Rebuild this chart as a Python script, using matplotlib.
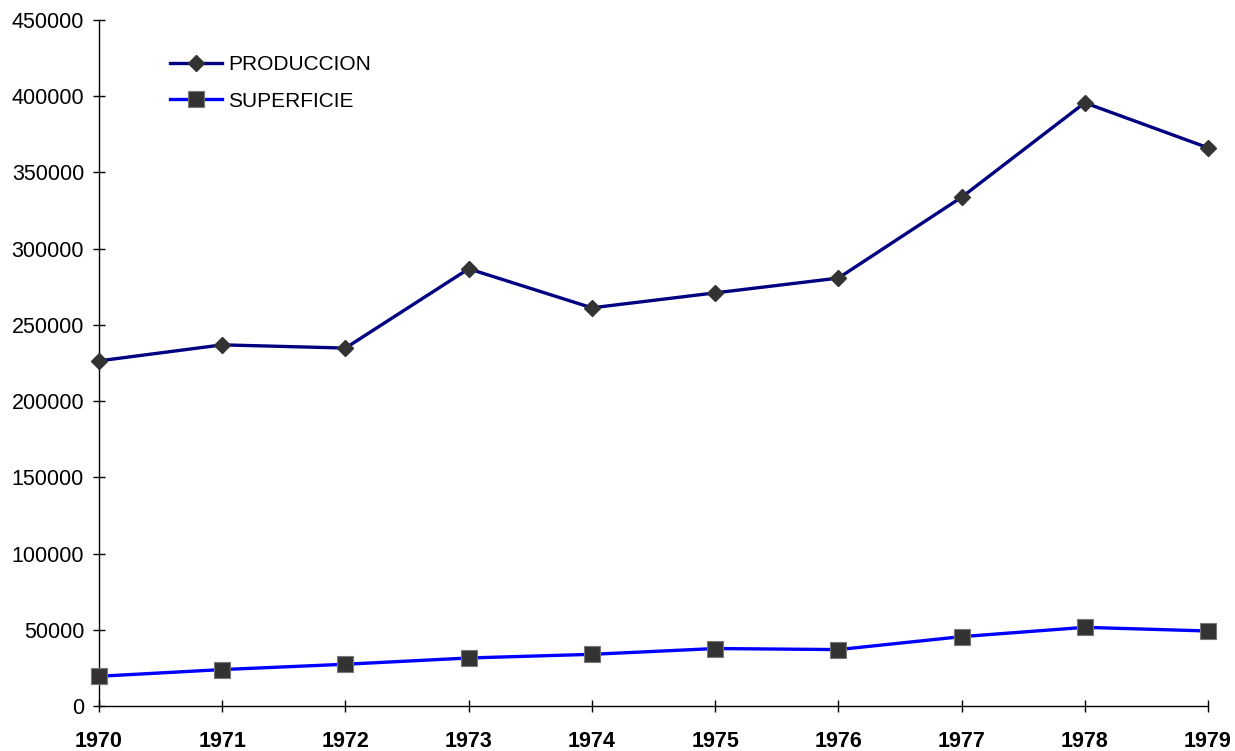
#!/usr/bin/env python3
"""Produccion y superficie 1970-1979 — line chart, two series on one axis."""

import matplotlib
matplotlib.use("Agg")
import matplotlib.pyplot as plt
from matplotlib.ticker import FormatStrFormatter

# =============================================================================
# DATA
# =============================================================================
YEARS = [1970, 1971, 1972, 1973, 1974, 1975, 1976, 1977, 1978, 1979]
PRODUCCION = [226400, 236900, 234800, 286800, 261200,
              271000, 280700, 333700, 395700, 366200]
SUPERFICIE = [19500, 23900, 27400, 31500, 33900,
              37700, 37000, 45500, 51600, 49200]
Y_TICKS = list(range(0, 450001, 50000))

# =============================================================================
# DISPLAY
# =============================================================================
plt.rcParams["font.family"] = ["Liberation Sans", "DejaVu Sans"]
TICK_FONT = 15.5
LEGEND_FONT = 15
MARKER_FACE = "#333333"
MARKER_EDGE = "#777777"


def main():
    fig = plt.figure(figsize=(12.35, 7.51), dpi=100)
    ax = fig.add_axes([99 / 1235, 45 / 751, (1208 - 99) / 1235, (706 - 20) / 751])

    ax.plot(YEARS, PRODUCCION, color="#000080", lw=2.4, marker="D", ms=8.5,
            mfc=MARKER_FACE, mec=MARKER_FACE, label="PRODUCCION",
            clip_on=False, zorder=3)
    ax.plot(YEARS, SUPERFICIE, color="#0000FF", lw=2.4, marker="s", ms=11,
            mfc=MARKER_FACE, mec=MARKER_EDGE, mew=0.8, label="SUPERFICIE",
            clip_on=False, zorder=3)

    ax.set_xlim(YEARS[0], YEARS[-1])
    ax.set_ylim(0, 450000)
    ax.set_xticks(YEARS)
    ax.set_yticks(Y_TICKS)
    ax.yaxis.set_major_formatter(FormatStrFormatter("%d"))

    for side in ("top", "right"):
        ax.spines[side].set_visible(False)
    for side in ("left", "bottom"):
        ax.spines[side].set_linewidth(1.0)
        ax.spines[side].set_color("black")

    ax.tick_params(axis="both", direction="inout", length=8.5, width=1.0,
                   labelsize=TICK_FONT, colors="black")
    ax.tick_params(axis="y", pad=6.5)
    ax.tick_params(axis="x", pad=14)
    for lbl in ax.get_xticklabels():
        lbl.set_fontweight("bold")

    ax.legend(loc="upper left", bbox_to_anchor=(170 / 1235, 1 - 55 / 751),
              bbox_transform=fig.transFigure, frameon=False, fontsize=LEGEND_FONT,
              borderpad=0, borderaxespad=0, handlelength=2.5,
              handletextpad=0.3, labelspacing=0.85)

    fig.savefig("out.png", dpi=100)
    plt.close(fig)


if __name__ == "__main__":
    main()
